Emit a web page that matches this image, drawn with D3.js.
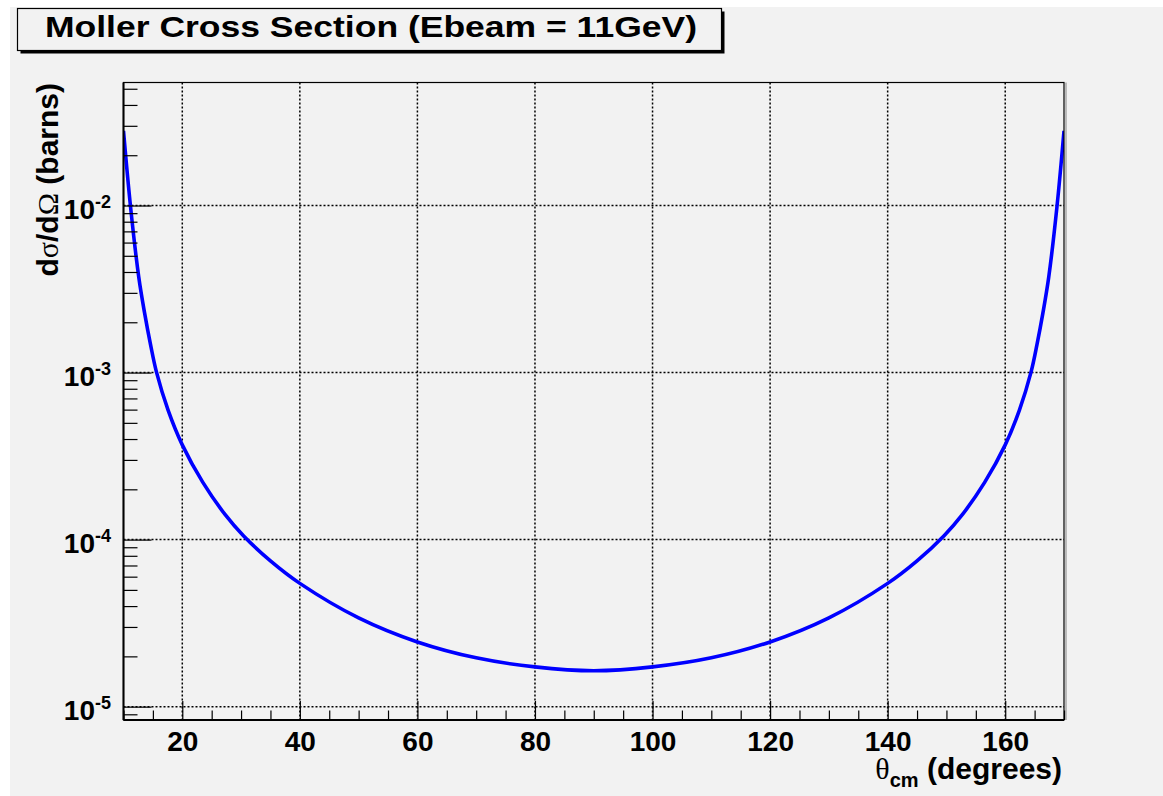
<!DOCTYPE html>
<html>
<head>
<meta charset="utf-8">
<script src="https://cdn.jsdelivr.net/npm/d3@7"></script>
<style>
  body { margin: 0; background: #fff; }
  svg { display: block; }
  .tick line { stroke: #000; stroke-width: 1.2; }
  .domain { display: none; }
</style>
</head>
<body>
<div class="chart-container"></div>
<script>
var totalWidth = 1163;
var totalHeight = 796;

// frame of the pad (pixels)
var frame = { left: 123.5, right: 1064, top: 82.5, bottom: 720 };

// data: theta_cm (deg) and dsigma/dOmega (barns)
var thetaCm = [10, 11.2, 12.6, 13.6, 14.6, 15.6, 17.6, 20, 23.5, 27.3, 30.4, 35, 40, 50, 60, 70, 80, 90,
               100, 110, 120, 130, 140, 145, 149.6, 152.7, 156.5, 160, 162.4, 164.4, 165.4, 166.4, 167.4, 168.8, 170];
var crossSection = [2.80e-2, 9.82e-3, 3.72e-3, 2.26e-3, 1.47e-3, 1.01e-3, 5.94e-4, 3.69e-4, 2.20e-4, 1.41e-4,
                    1.055e-4, 7.46e-5, 5.47e-5, 3.40e-5, 2.44e-5, 1.96e-5, 1.73e-5, 1.64e-5,
                    1.73e-5, 1.96e-5, 2.44e-5, 3.40e-5, 5.47e-5, 7.46e-5, 1.055e-4, 1.41e-4, 2.20e-4, 3.69e-4,
                    5.94e-4, 1.01e-3, 1.47e-3, 2.26e-3, 3.72e-3, 9.82e-3, 2.80e-2];

var xMajorTicks = [20, 40, 60, 80, 100, 120, 140, 160];
var yMajorTicks = [1e-5, 1e-4, 1e-3, 1e-2];
var yTickExponents = ['-5', '-4', '-3', '-2'];

var points = thetaCm.map((t, i) => ({ theta: t, sigma: crossSection[i] }));

var svg = d3.select('.chart-container').append('svg')
  .attr('width', totalWidth)
  .attr('height', totalHeight)
  .style('font-family', '"Liberation Sans", Arial, Helvetica, sans-serif');

// canvas background
svg.append('rect')
  .attr('x', 10).attr('y', 7)
  .attr('width', totalWidth - 10).attr('height', totalHeight - 7)
  .attr('fill', '#f2f2f2');

var x = d3.scaleLinear()
  .domain([10, 170])
  .range([frame.left, frame.right]);

var y = d3.scaleLog()
  .domain([8.32e-6, 5.45e-2])
  .range([frame.bottom, frame.top]);

var xMinor = d3.range(10, 171, 5).filter(v => xMajorTicks.indexOf(v) < 0);
var yMinor = [];
[1e-6, 1e-5, 1e-4, 1e-3, 1e-2].forEach(d => {
  for (var k = 2; k <= 9; k++) {
    var v = d * k;
    if (v > y.domain()[0] && v < y.domain()[1]) yMinor.push(v);
  }
});

/*
 * Grid
 */
var grid = svg.append('g')
  .attr('stroke', '#000')
  .attr('stroke-width', 1.5)
  .attr('stroke-dasharray', '2,2');

grid.selectAll('.gx')
  .data(xMajorTicks).enter()
  .append('line')
    .attr('x1', d => x(d)).attr('x2', d => x(d))
    .attr('y1', frame.top).attr('y2', frame.bottom);

grid.selectAll('.gy')
  .data(yMajorTicks).enter()
  .append('line')
    .attr('x1', frame.left).attr('x2', frame.right)
    .attr('y1', d => y(d)).attr('y2', d => y(d));

/*
 * Curve
 */
svg.append('clipPath')
  .attr('id', 'clip')
  .append('rect')
    .attr('x', frame.left).attr('y', frame.top)
    .attr('width', frame.right - frame.left)
    .attr('height', frame.bottom - frame.top);

var line = d3.line()
  .x(d => x(d.theta))
  .y(d => y(d.sigma))
  .curve(d3.curveCatmullRom.alpha(0.5));

svg.append('path')
  .datum(points)
  .attr('clip-path', 'url(#clip)')
  .attr('fill', 'none')
  .attr('stroke', '#0000ff')
  .attr('stroke-width', 3.6)
  .attr('d', line);

/*
 * Frame
 */
svg.append('line')
  .attr('x1', frame.right + 2).attr('x2', frame.right + 2)
  .attr('y1', frame.top).attr('y2', frame.bottom)
  .attr('stroke', '#bbb').attr('stroke-width', 2);

svg.append('rect')
  .attr('x', frame.left).attr('y', frame.top)
  .attr('width', frame.right - frame.left)
  .attr('height', frame.bottom - frame.top)
  .attr('fill', 'none')
  .attr('stroke', '#000')
  .attr('stroke-width', 1.2);

/*
 * Axes (ticks pointing inside, ROOT style)
 */
svg.append('g')
  .attr('transform', `translate(0, ${frame.bottom})`)
  .call(d3.axisBottom(x).tickValues(xMinor).tickSize(-9.5).tickFormat(''));

var gX = svg.append('g')
  .attr('transform', `translate(0, ${frame.bottom})`)
  .call(d3.axisBottom(x).tickValues(xMajorTicks).tickSize(-19).tickPadding(11).tickFormat(d3.format('d')));

gX.selectAll('text')
  .attr('fill', '#000')
  .style('font-size', '28px')
  .style('font-weight', 'bold');

svg.append('g')
  .attr('transform', `translate(${frame.left}, 0)`)
  .call(d3.axisLeft(y).tickValues(yMinor).tickSize(-14).tickFormat(''));

var gY = svg.append('g')
  .attr('transform', `translate(${frame.left}, 0)`)
  .call(d3.axisLeft(y).tickValues(yMajorTicks).tickSize(-28).tickFormat(''));

gY.selectAll('.tick').each(function(d, i) {
  var t = d3.select(this).append('text')
    .attr('x', 111 - frame.left)
    .attr('y', 12.5)
    .attr('fill', '#000')
    .attr('text-anchor', 'end')
    .style('font-size', '28px')
    .style('font-weight', 'bold');
  t.append('tspan').text('10');
  t.append('tspan')
    .attr('dy', -11)
    .style('font-size', '18px')
    .text(yTickExponents[i]);
});

// axis lines drawn heavier
svg.append('line')
  .attr('x1', frame.left).attr('x2', frame.left)
  .attr('y1', frame.top).attr('y2', frame.bottom)
  .attr('stroke', '#000').attr('stroke-width', 2);
svg.append('line')
  .attr('x1', frame.left).attr('x2', frame.right)
  .attr('y1', frame.bottom).attr('y2', frame.bottom)
  .attr('stroke', '#000').attr('stroke-width', 2);

/*
 * Axis titles
 */
var xTitle = svg.append('text')
  .attr('x', 1062)
  .attr('y', 779)
  .attr('text-anchor', 'end')
  .style('font-size', '30px')
  .style('font-weight', 'bold');
xTitle.append('tspan')
  .style('font-family', '"Liberation Serif", "DejaVu Serif", serif')
  .style('font-weight', 'normal')
  .text('θ');
xTitle.append('tspan')
  .attr('dy', 8)
  .style('font-size', '20px')
  .text('cm');
xTitle.append('tspan')
  .attr('dy', -8)
  .text(' (degrees)');

var yTitle = svg.append('text')
  .attr('transform', 'translate(58, 83) rotate(-90)')
  .attr('text-anchor', 'end')
  .style('font-size', '30px')
  .style('font-weight', 'bold');
yTitle.append('tspan').text('d');
yTitle.append('tspan')
  .style('font-family', '"Liberation Serif", "DejaVu Serif", serif')
  .style('font-weight', 'normal')
  .text('σ');
yTitle.append('tspan').text('/d');
yTitle.append('tspan')
  .style('font-family', '"Liberation Serif", "DejaVu Serif", serif')
  .style('font-weight', 'normal')
  .text('Ω');
yTitle.append('tspan').text(' (barns)');

/*
 * Title box
 */
svg.append('rect')
  .attr('x', 20.5).attr('y', 11.5)
  .attr('width', 704).attr('height', 42)
  .attr('fill', '#000');
svg.append('rect')
  .attr('x', 17.5).attr('y', 8.5)
  .attr('width', 704).attr('height', 42)
  .attr('fill', '#f2f2f2')
  .attr('stroke', '#000')
  .attr('stroke-width', 1.2);
svg.append('text')
  .attr('x', 45)
  .attr('y', 37)
  .attr('textLength', 652)
  .attr('lengthAdjust', 'spacingAndGlyphs')
  .style('font-size', '30px')
  .style('font-weight', 'bold')
  .text('Moller Cross Section (Ebeam = 11GeV)');
</script>
</body>
</html>
